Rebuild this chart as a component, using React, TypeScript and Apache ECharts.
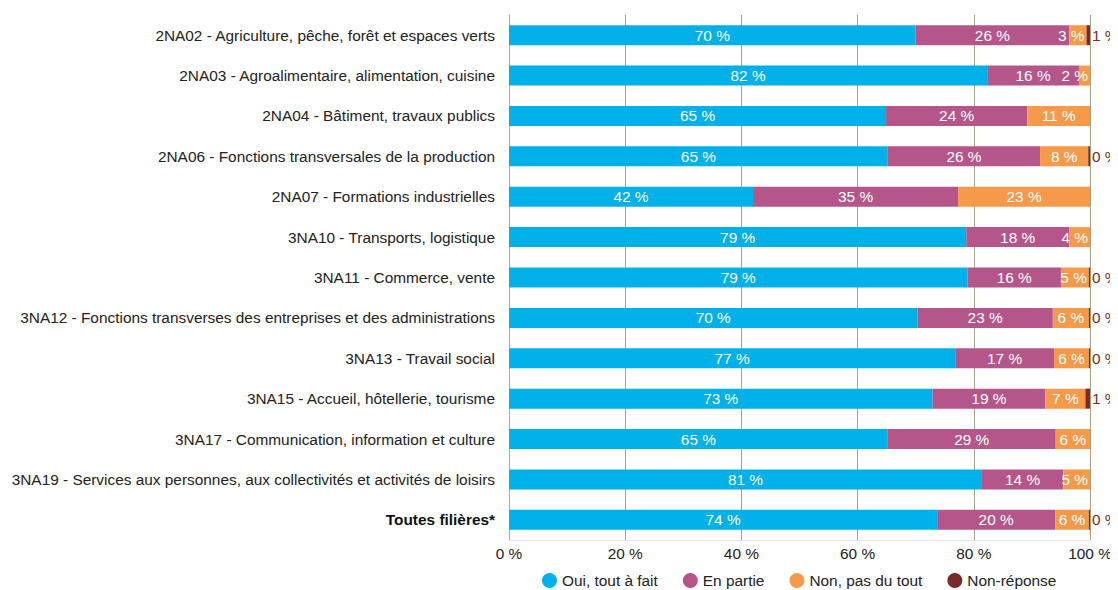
import React, { useEffect, useRef } from "react";
import * as echarts from "echarts";

const categories = [
  "2NA02 - Agriculture, pêche, forêt et espaces verts",
  "2NA03 - Agroalimentaire, alimentation, cuisine",
  "2NA04 - Bâtiment, travaux publics",
  "2NA06 - Fonctions transversales de la production",
  "2NA07 - Formations industrielles",
  "3NA10 - Transports, logistique",
  "3NA11 - Commerce, vente",
  "3NA12 - Fonctions transverses des entreprises et des administrations",
  "3NA13 - Travail social",
  "3NA15 - Accueil, hôtellerie, tourisme",
  "3NA17 - Communication, information et culture",
  "3NA19 - Services aux personnes, aux collectivités et activités de loisirs",
  "Toutes filières*",
];

const seriesNames = ["Oui, tout à fait", "En partie", "Non, pas du tout", "Non-réponse"];

const oui = [70.0, 82.3, 64.9, 65.2, 42.0, 78.7, 78.9, 70.3, 76.8, 72.9, 65.2, 81.4, 73.7];
const enPartie = [26.4, 15.8, 24.3, 26.2, 35.3, 17.7, 16.1, 23.3, 17.0, 19.4, 28.9, 14.0, 20.3];
const nonPas = [3.0, 1.9, 10.8, 8.3, 22.7, 3.6, 4.8, 6.2, 6.0, 6.9, 5.9, 4.6, 5.8];
const nonReponse: (number | null)[] = [0.6, null, null, 0.3, null, null, 0.2, 0.2, 0.2, 0.8, null, null, 0.2];

const xTicks = [0, 20, 40, 60, 80, 100];

const colors = ["#00b1e9", "#b5568a", "#f7994b", "#7a2a2a"];
const FONT = "Liberation Sans, Arial, Helvetica, sans-serif";
const FS = 15.4;

export default function App() {
  const ref = useRef<HTMLDivElement>(null);
  useEffect(() => {
    if (!ref.current) return;
    const chart = echarts.init(ref.current, null, { renderer: "svg" });
    const fmt = (p: any) => (p.value == null ? "" : Math.round(p.value) + " %");
    const mk = (i: number, vals: (number | null)[]) => ({
      name: seriesNames[i],
      type: "bar",
      stack: "total",
      barWidth: 20,
      data: vals.map((v) =>
        i < 3 && v != null && v < 5
          ? { value: v, label: { position: "insideRight", distance: 2 } }
          : v
      ),
      itemStyle: { color: colors[i] },
      label: {
        show: true,
        position: i === 3 ? "right" : "inside",
        distance: 2,
        formatter: fmt,
        color: i === 3 ? "#7a2a2a" : "#ffffff",
        fontSize: FS,
        fontFamily: FONT,
      },
    });
    chart.setOption({
      animation: false,
      textStyle: { fontFamily: FONT },
      grid: { left: 509, right: 28, top: 15, bottom: 50, containLabel: false },
      legend: {
        top: 568,
        left: 537,
        icon: "circle",
        itemWidth: 15,
        itemHeight: 15,
        itemGap: 25,
        textStyle: { fontSize: FS, color: "#222", fontFamily: FONT },
        data: seriesNames,
      },
      xAxis: {
        type: "value",
        min: 0,
        max: 100,
        interval: 20,
        axisLabel: {
          formatter: (v: number) => (xTicks.includes(v) ? v + " %" : ""),
          fontSize: FS,
          color: "#222",
          margin: 6,
        },
        axisLine: { show: true, lineStyle: { color: "#e8e8e8" } },
        axisTick: { show: false },
        splitLine: { show: true, lineStyle: { color: "#aaa37a", width: 1 } },
      },
      yAxis: {
        type: "category",
        inverse: true,
        data: categories,
        axisLine: { show: true, lineStyle: { color: "#b5ad8a" } },
        axisTick: { show: false },
        axisLabel: {
          fontSize: FS,
          color: "#222",
          margin: 14,
          formatter: (v: string) => (v === "Toutes filières*" ? "{b|" + v + "}" : v),
          rich: { b: { fontWeight: "bold", fontSize: FS, color: "#111" } },
        },
      },
      series: [mk(0, oui), mk(1, enPartie), mk(2, nonPas), mk(3, nonReponse)],
    });
    return () => chart.dispose();
  }, []);
  return (
    <div
      ref={ref}
      style={{ width: 1118, height: 590, marginLeft: -8, marginTop: -8, overflow: "hidden" }}
    />
  );
}
